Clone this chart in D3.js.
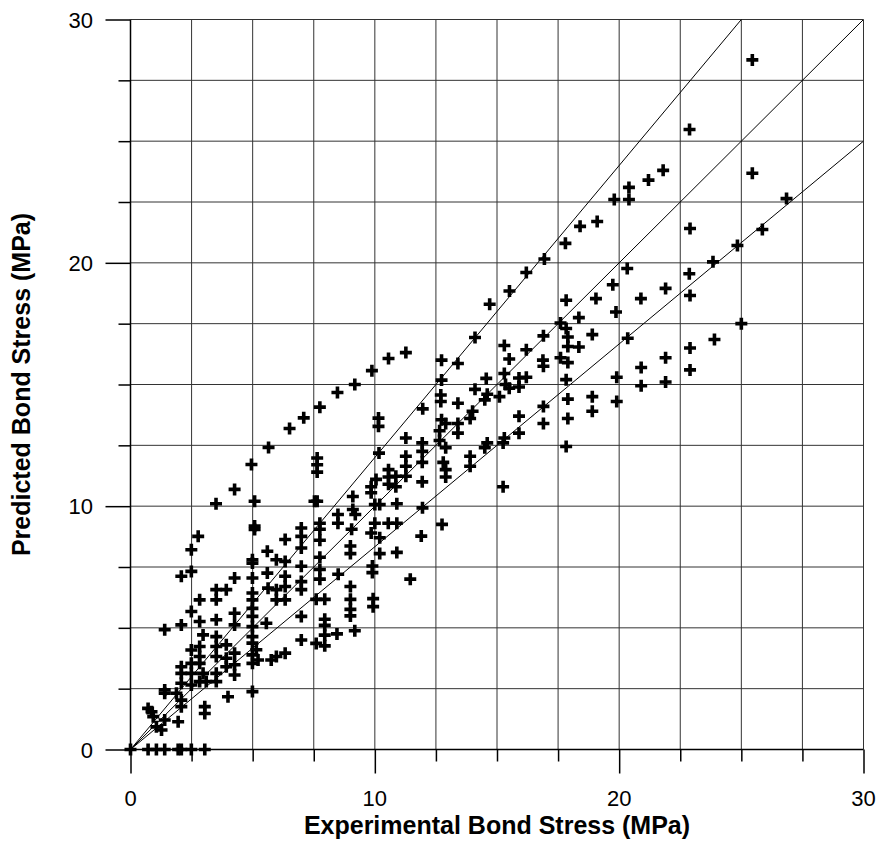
<!DOCTYPE html>
<html>
<head>
<meta charset="utf-8">
<script src="https://cdn.jsdelivr.net/npm/d3@7"></script>
<style>
  body { margin: 0; background: #fff; }
  svg { display: block; font-family: "Liberation Sans", Arial, sans-serif; }
</style>
</head>
<body>
<svg id="chart" width="877" height="843"></svg>
<script>
// axis ticks
var majorTicks = [0, 10, 20, 30];
var gridSteps = [0, 2.5, 5, 7.5, 10, 12.5, 15, 17.5, 20, 22.5, 25, 27.5, 30];
// reference lines: predicted = k * experimental
var ratioLines = [1.2, 1.0, 1 / 1.2];

// experimental bond stress (MPa)
var expStress = [
  0, 0.72, 1.06, 1.4, 1.95, 2.08, 2.49, 3.04,
  3.5, 5.08, 5.08, 5.08, 7.53,
  6.99, 6.99, 6.99, 6.99, 6.99, 6.99, 6.99, 6.99,
  6.33, 5.6, 5.97, 6.33, 6.33, 6.33, 6.33, 5.97, 5.97, 5.97, 6.33, 5.6, 5.63,
  4.99, 4.99, 4.99, 4.99, 4.99, 4.99, 4.99, 4.99, 4.99, 4.99, 4.99, 4.99, 4.99, 5.15, 5.22, 5.56, 5.76,
  4.26, 4.26, 4.26, 4.26, 4.26, 4.26, 3.92, 3.51, 3.51, 3.51, 3.51, 3.51, 3.51, 3.51, 3.51, 3.92, 3.92, 3.92, 3.99,
  2.77, 2.49, 2.49, 2.08, 2.83, 2.49, 2.83, 2.08, 1.4, 2.97, 2.83, 2.49, 2.83, 2.49, 2.83, 2.97, 2.49, 2.83, 3.1, 2.49,
  2.08, 2.08, 2.08, 2.08, 2.08, 1.95, 3.04, 3.04, 1.4, 1.4, 1.4, 0.72, 0.86, 1.06, 1.27, 0.93, 1.88,
  4.26, 4.95, 5.65, 6.51, 7.09, 7.75, 8.47, 9.18, 9.88, 10.56, 11.27,
  8.49, 8.49, 9.1, 9.2, 9.05, 9.0, 9.0, 10.0, 10.2, 10.0, 9.85, 10.2, 10.2, 9.9, 9.9, 10.55, 10.9, 10.9, 11.95, 11.9, 10.9, 12.75, 11.45,
  9.93, 9.93, 9.0, 9.0, 9.0, 9.0, 9.18, 8.45, 7.95, 7.95, 7.95, 7.95, 7.6, 7.95, 7.6, 8.5, 7.75, 7.75, 7.75, 7.75, 7.75, 7.75,
  10.15, 10.15, 10.17, 7.64, 7.64, 7.64, 7.64, 9.1, 9.85, 9.85, 10.05, 10.56, 10.56, 10.56, 10.86, 10.86, 11.27, 11.27, 11.27, 11.27,
  11.94, 11.94, 11.94, 11.94,
  12.73, 13.4, 14.1, 12.73, 12.7, 12.7, 11.96, 13.4, 12.73, 12.9, 12.65, 13.4, 13.4, 14.0, 13.9, 14.1, 12.9, 12.65, 12.8, 12.9, 12.9,
  13.9, 13.9, 14.56, 14.5, 14.6, 14.6, 15.25, 14.5, 15.25,
  16.94, 16.2, 15.51, 20.33, 19.74, 19.05, 17.83, 19.87, 18.35, 20.89, 21.9, 22.87, 22.9,
  17.6, 17.83, 17.9, 17.9, 18.35, 17.6, 17.9, 18.9, 16.9, 16.88, 16.9, 16.2, 15.5, 15.3, 15.3, 16.2, 15.9, 15.9, 15.5, 15.35, 15.1,
  20.35, 22.9, 23.9, 21.9, 20.9, 22.9, 19.9, 20.9, 21.9, 19.9, 18.9, 18.9, 17.83, 17.9, 17.9, 17.83, 16.9, 16.9, 15.9, 15.9, 15.3,
  25.45, 22.88, 21.8, 21.2, 25.45, 26.85, 22.9, 25.86, 24.84, 23.84,
  17.8, 18.4, 19.1, 19.8, 20.4, 20.4, 14.7, 25.0
];

// predicted bond stress (MPa)
var predStress = [
  0, 0, 0, 0, 0, 0, 0, 0,
  10.1, 10.2, 9.18, 9.04, 10.2,
  9.1, 8.76, 8.28, 7.53, 6.9, 6.57, 5.47, 4.5,
  8.63, 8.15, 7.8, 7.73, 7.12, 6.7, 6.15, 6.57, 6.15, 3.82, 3.96, 7.25, 6.63,
  7.8, 7.66, 7.05, 6.43, 6.15, 5.8, 5.47, 5.05, 4.64, 4.37, 3.89, 3.54, 2.38, 4.1, 3.68, 5.19, 3.68,
  7.05, 5.6, 5.12, 3.96, 3.48, 3.06, 6.57, 6.57, 6.15, 5.33, 4.64, 4.23, 3.82, 3.13, 2.79, 4.3, 3.75, 3.4, 2.17,
  8.76, 8.21, 7.32, 7.12, 6.15, 5.67, 5.26, 5.12, 4.92, 4.71, 4.23, 4.09, 3.82, 3.54, 3.54, 3.13, 3.13, 2.79, 2.79, 2.65,
  3.4, 3.13, 2.72, 2.03, 1.76, 1.14, 1.76, 1.48, 2.45, 2.31, 1.21, 1.69, 1.55, 0.93, 0.8, 1.35, 2.31,
  10.69, 11.71, 12.41, 13.19, 13.63, 14.07, 14.67, 15.0, 15.57, 16.07, 16.31,
  9.66, 9.3, 9.86, 9.66, 9.05, 8.36, 8.05, 10.07, 10.07, 9.3, 8.9, 8.7, 8.05, 7.54, 7.27, 9.3, 9.3, 10.1, 9.93, 8.77, 8.1, 9.25, 7.0,
  6.2, 5.87, 6.7, 6.17, 5.76, 5.49, 4.88, 4.75, 5.35, 5.1, 4.7, 4.26, 4.36, 6.17, 6.17, 7.2, 7.0, 7.4, 7.9, 8.6, 9.05, 9.3,
  13.62, 13.28, 12.18, 11.98, 11.7, 11.4, 10.2, 10.4, 10.8, 10.55, 11.1, 11.5, 11.2, 10.9, 11.23, 10.8, 12.8, 12.05, 11.64, 11.23,
  12.6, 12.25, 11.8, 11.0,
  16.0, 15.86, 16.93, 15.18, 14.57, 14.3, 14.0, 14.23, 13.55, 13.4, 13.1, 13.4, 13.0, 13.9, 13.6, 14.8, 12.4, 12.7, 11.8, 11.5, 11.2,
  12.05, 11.64, 15.25, 14.37, 14.6, 12.6, 12.6, 12.4, 10.8,
  20.16, 19.6, 18.84, 19.77, 19.1, 18.53, 18.46, 17.98, 17.75, 18.53, 18.95, 19.55, 18.66,
  17.53, 17.3, 16.95, 16.56, 16.54, 16.1, 15.9, 17.05, 17.0, 16.0, 15.75, 16.43, 16.05, 16.6, 15.45, 15.3, 15.27, 14.9, 14.85, 15.0, 14.5,
  16.9, 16.5, 16.85, 16.1, 15.7, 15.6, 15.3, 14.95, 15.1, 14.3, 14.5, 13.9, 15.2, 14.4, 13.6, 12.45, 14.1, 13.4, 13.7, 13.0, 12.8,
  28.34, 25.48, 23.8, 23.4, 23.68, 22.64, 21.41, 21.37, 20.71, 20.04,
  20.8, 21.5, 21.7, 22.6, 22.6, 23.1, 18.3, 17.5
];

var data = expStress.map(function(v, i) { return {x: v, y: predStress[i]}; });

var svg = d3.select("#chart");
var x = d3.scaleLinear().domain([0, 30]).range([130.5, 863.5]);
var y = d3.scaleLinear().domain([0, 30]).range([749.5, 19.5]);

// grid
var grid = svg.append("g");
grid.selectAll("line.v").data(gridSteps.slice(1)).enter().append("line")
  .attr("class", "v")
  .attr("x1", function(d){ return x(d); }).attr("x2", function(d){ return x(d); })
  .attr("y1", y(0)).attr("y2", y(30))
  .attr("stroke", "#333").attr("stroke-width", 1);
grid.selectAll("line.h").data(gridSteps.slice(1)).enter().append("line")
  .attr("class", "h")
  .attr("y1", function(d){ return y(d); }).attr("y2", function(d){ return y(d); })
  .attr("x1", x(0)).attr("x2", x(30))
  .attr("stroke", "#333").attr("stroke-width", 1);

// ratio lines, clipped to the plot
svg.append("clipPath").attr("id", "plotclip").append("rect")
  .attr("x", x(0)).attr("y", y(30)).attr("width", x(30) - x(0)).attr("height", y(0) - y(30));
svg.append("g").attr("clip-path", "url(#plotclip)")
  .selectAll("line").data(ratioLines).enter().append("line")
  .attr("x1", x(0)).attr("y1", y(0))
  .attr("x2", x(30))
  .attr("y2", function(k){ return y(30 * k); })
  .attr("stroke", "#000").attr("stroke-width", 1);

// axes
var xAxis = d3.axisBottom(x).tickValues(gridSteps).tickSize(12).tickFormat("");
var yAxis = d3.axisLeft(y).tickValues(gridSteps).tickSize(12).tickFormat("");

var gx = svg.append("g").attr("transform", "translate(0," + y(0) + ")").call(xAxis);
var gy = svg.append("g").attr("transform", "translate(" + x(0) + ",0)").call(yAxis);
[gx, gy].forEach(function(g) {
  g.select(".domain").remove();
  g.selectAll(".tick line").attr("stroke", "#000").attr("stroke-width", 1.5);
});
gx.selectAll(".tick line").attr("y2", function(d){ return majorTicks.indexOf(d) >= 0 ? 24 : 12; });
gy.selectAll(".tick line").attr("x2", function(d){ return majorTicks.indexOf(d) >= 0 ? -25 : -12; });

svg.append("line").attr("x1", x(0)).attr("x2", x(0)).attr("y1", y(0)).attr("y2", y(30))
  .attr("stroke", "#000").attr("stroke-width", 1.5);
svg.append("line").attr("x1", x(0)).attr("x2", x(30)).attr("y1", y(0)).attr("y2", y(0))
  .attr("stroke", "#000").attr("stroke-width", 1.5);

// tick labels
svg.append("g").selectAll("text").data(majorTicks).enter().append("text")
  .attr("x", function(d){ return x(d); })
  .attr("y", 806)
  .attr("text-anchor", "middle")
  .attr("font-size", 22)
  .text(function(d){ return d; });
svg.append("g").selectAll("text").data(majorTicks).enter().append("text")
  .attr("x", 93)
  .attr("y", function(d){ return y(d) + 8; })
  .attr("text-anchor", "end")
  .attr("font-size", 22)
  .text(function(d){ return d; });

// axis titles
svg.append("text")
  .attr("x", (x(0) + x(30)) / 2).attr("y", 834)
  .attr("text-anchor", "middle")
  .attr("font-size", 25).attr("font-weight", "bold")
  .text("Experimental Bond Stress (MPa)");
svg.append("text")
  .attr("transform", "translate(30," + ((y(0) + y(30)) / 2) + ") rotate(-90)")
  .attr("text-anchor", "middle")
  .attr("font-size", 25).attr("font-weight", "bold")
  .text("Predicted Bond Stress (MPa)");

// data markers
svg.append("g").selectAll("path").data(data).enter().append("path")
  .attr("transform", function(d){ return "translate(" + x(d.x) + "," + y(d.y) + ")"; })
  .attr("d", "M-6,0H6M0,-6V6")
  .attr("stroke", "#000").attr("stroke-width", 3.6)
  .attr("fill", "none");
</script>
</body>
</html>
